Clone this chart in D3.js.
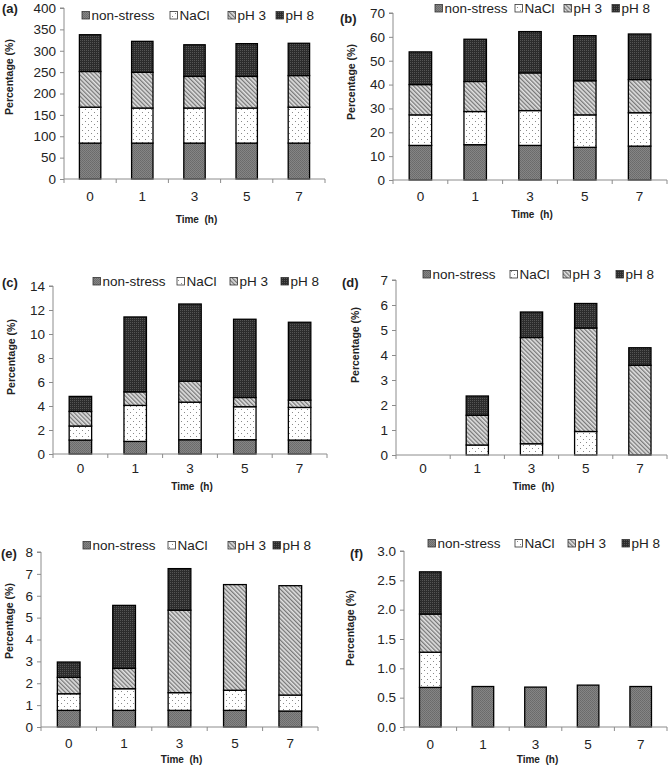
<!DOCTYPE html>
<html><head><meta charset="utf-8">
<script src="https://cdn.jsdelivr.net/npm/d3@7"></script>
<style>
html,body{margin:0;padding:0;background:#fff;}
svg{display:block;font-family:"Liberation Sans",Arial,sans-serif;}
</style></head>
<body>
<svg id="chart" width="669" height="767"></svg>
<script>
// ---------- data ----------
const times = ["0", "1", "3", "5", "7"];
const seriesNames = ["non-stress", "NaCl", "pH 3", "pH 8"];
const panelLabels = ["(a)", "(b)", "(c)", "(d)", "(e)", "(f)"];
const yMaxes = [400, 70, 14, 7, 8, 3.0];
const yTickSteps = [50, 10, 2, 1, 1, 0.5];
const yTickFormats = ["d", "d", "d", "d", "d", ".1f"];
const xTitle = "Time  (h)";
const yTitle = "Percentage (%)";

// panel (a)
const aNonStress = [84, 84, 84, 84, 84];
const aNaCl      = [84, 82, 82, 82, 84];
const aPH3       = [83.5, 83.5, 74, 74, 74];
const aPH8       = [86, 72.5, 74, 76.6, 75.5];
// panel (b)
const bNonStress = [14.5, 14.8, 14.5, 13.7, 14.2];
const bNaCl      = [12.8, 13.9, 14.6, 13.6, 14.0];
const bPH3       = [12.7, 12.6, 15.8, 14.3, 13.9];
const bPH8       = [13.7, 17.7, 17.3, 18.9, 19.1];
// panel (c)
const cNonStress = [1.16, 1.05, 1.19, 1.19, 1.16];
const cNaCl      = [1.17, 3.0, 3.13, 2.75, 2.72];
const cPH3       = [1.22, 1.13, 1.75, 0.77, 0.61];
const cPH8       = [1.25, 6.24, 6.43, 6.52, 6.49];
// panel (d)
const dNonStress = [0, 0, 0, 0, 0];
const dNaCl      = [0, 0.4, 0.45, 0.94, 0];
const dPH3       = [0, 1.19, 4.25, 4.14, 3.59];
const dPH8       = [0, 0.77, 1.02, 0.98, 0.7];
// panel (e)
const eNonStress = [0.76, 0.76, 0.76, 0.76, 0.73];
const eNaCl      = [0.76, 0.99, 0.81, 0.92, 0.73];
const ePH3       = [0.75, 0.93, 3.77, 4.83, 5.0];
const ePH8       = [0.7, 2.88, 1.9, 0, 0];
// panel (f)
const fNonStress = [0.675, 0.69, 0.68, 0.714, 0.69];
const fNaCl      = [0.6, 0, 0, 0, 0];
const fPH3       = [0.65, 0, 0, 0, 0];
const fPH8       = [0.72, 0, 0, 0, 0];

const panelSeries = [
  [aNonStress, aNaCl, aPH3, aPH8],
  [bNonStress, bNaCl, bPH3, bPH8],
  [cNonStress, cNaCl, cPH3, cPH8],
  [dNonStress, dNaCl, dPH3, dPH8],
  [eNonStress, eNaCl, ePH3, ePH8],
  [fNonStress, fNaCl, fPH3, fPH8]
];

// ---------- layout ----------
const layout = [
  {x0:64,  x1:325, yTop:8,   yBot:179, lab:[2,8],    leg:[[82,170,228,276],15],   yl:[9,77],    xl:196, tl:219},
  {x0:393, x1:667, yTop:13,  yBot:180, lab:[340,18], leg:[[435,515,564,612],8],   yl:[351,82],  xl:196, tl:214},
  {x0:53,  x1:327, yTop:286, yBot:454, lab:[2,282],  leg:[[93,177,230,281],281],  yl:[11,357],  xl:468, tl:486},
  {x0:396, x1:667, yTop:280, yBot:455, lab:[342,282],leg:[[423,510,563,616],274], yl:[355,345], xl:468, tl:486},
  {x0:41,  x1:318, yTop:552, yBot:727, lab:[1,553],  leg:[[83,168,228,273],545],  yl:[9,621],   xl:743, tl:759},
  {x0:404, x1:667, yTop:551, yBot:727, lab:[350,553],leg:[[428,515,568,622],543], yl:[350,628], xl:744, tl:759}
];

const svg = d3.select("#chart");
const defs = svg.append("defs");

// patterns
const pNs = defs.append("pattern").attr("id","pNs").attr("patternUnits","userSpaceOnUse").attr("width",2).attr("height",2);
pNs.append("rect").attr("width",2).attr("height",2).attr("fill","#858585");
pNs.append("rect").attr("width",1).attr("height",1).attr("fill","#6a6a6a");
pNs.append("rect").attr("x",1).attr("y",1).attr("width",1).attr("height",1).attr("fill","#6e6e6e");

const pNa = defs.append("pattern").attr("id","pNa").attr("patternUnits","userSpaceOnUse").attr("width",6).attr("height",6);
pNa.append("rect").attr("width",6).attr("height",6).attr("fill","#fff");
pNa.append("rect").attr("x",1).attr("y",1).attr("width",1).attr("height",1).attr("fill","#8a8a8a");
pNa.append("rect").attr("x",4).attr("y",4).attr("width",1).attr("height",1).attr("fill","#8a8a8a");

const pP3 = defs.append("pattern").attr("id","pP3").attr("patternUnits","userSpaceOnUse").attr("width",3).attr("height",3).attr("patternTransform","rotate(-45)");
pP3.append("rect").attr("width",3).attr("height",3).attr("fill","#e2e2e2");
pP3.append("rect").attr("width",1.3).attr("height",3).attr("fill","#777");

const pP8 = defs.append("pattern").attr("id","pP8").attr("patternUnits","userSpaceOnUse").attr("width",2).attr("height",2);
pP8.append("rect").attr("width",2).attr("height",2).attr("fill","#2c2c2c");
pP8.append("rect").attr("width",1).attr("height",1).attr("fill","#555");

const fills = ["url(#pNs)", "url(#pNa)", "url(#pP3)", "url(#pP8)"];
const axisColor = "#8c8c8c";

panelSeries.forEach((series, pi) => {
  const L = layout[pi];
  const g = svg.append("g");
  const x = d3.scaleBand().domain(times).range([L.x0, L.x1]).padding(0);
  const y = d3.scaleLinear().domain([0, yMaxes[pi]]).range([L.yBot, L.yTop]);
  const barW = x.bandwidth() * 0.41;

  // y axis
  const tickVals = d3.range(0, yMaxes[pi] + yTickSteps[pi] / 2, yTickSteps[pi]);
  const yAxis = d3.axisLeft(y).tickValues(tickVals).tickSize(4).tickPadding(4)
    .tickFormat(d3.format(yTickFormats[pi]));
  const ya = g.append("g").attr("transform", `translate(${L.x0},0)`).call(yAxis);
  ya.select(".domain").attr("stroke", axisColor).attr("d", `M-4,${L.yTop}H0V${L.yBot}`);
  ya.selectAll(".tick line").attr("stroke", axisColor);
  ya.selectAll("text").attr("font-size", 13.5).attr("fill", "#222")
    .attr("font-family", "Liberation Sans, Arial, sans-serif");

  // stacked bars
  const rows = times.map((t, i) => {
    const r = {t};
    seriesNames.forEach((s, k) => r[s] = series[k][i]);
    return r;
  });
  const stack = d3.stack().keys(seriesNames)(rows);
  stack.forEach((layer, k) => {
    g.append("g").selectAll("rect").data(layer.filter(d => d[1] - d[0] > 0)).join("rect")
      .attr("x", d => x(d.data.t) + x.bandwidth() / 2 - barW / 2)
      .attr("y", d => y(d[1]))
      .attr("width", barW)
      .attr("height", d => y(d[0]) - y(d[1]))
      .attr("fill", fills[k])
      .attr("stroke", "#000")
      .attr("stroke-width", 1.3);
  });

  // x axis
  g.append("line").attr("x1", L.x0).attr("x2", L.x1).attr("y1", L.yBot).attr("y2", L.yBot)
    .attr("stroke", axisColor).attr("stroke-width", 1);
  const bounds = times.map(t => x(t)).concat([x(times[times.length - 1]) + x.bandwidth()]);
  g.selectAll("line.xt").data(bounds).join("line").attr("class", "xt")
    .attr("x1", d => d).attr("x2", d => d).attr("y1", L.yBot).attr("y2", L.yBot + 4)
    .attr("stroke", axisColor);
  g.selectAll("text.xl").data(times).join("text").attr("class", "xl")
    .attr("x", d => x(d) + x.bandwidth() / 2).attr("y", L.xl)
    .attr("text-anchor", "middle").attr("dominant-baseline", "central")
    .attr("font-size", 13.5).attr("fill", "#222").text(d => d);

  // axis titles
  g.append("text").attr("x", (L.x0 + L.x1) / 2 + 2).attr("y", L.tl)
    .attr("text-anchor", "middle").attr("dominant-baseline", "central")
    .attr("font-size", 10).attr("font-weight", "bold").attr("fill", "#222")
    .style("white-space", "pre").text(xTitle);
  g.append("text").attr("transform", `translate(${L.yl[0]},${L.yl[1]}) rotate(-90)`)
    .attr("text-anchor", "middle").attr("dominant-baseline", "central")
    .attr("font-size", 10.5).attr("font-weight", "bold").attr("fill", "#222")
    .text(yTitle);

  // panel label
  g.append("text").attr("x", L.lab[0]).attr("y", L.lab[1])
    .attr("dominant-baseline", "central")
    .attr("font-size", 13).attr("font-weight", "bold").attr("fill", "#222")
    .text(panelLabels[pi]);

  // legend
  const lg = g.append("g");
  seriesNames.forEach((s, k) => {
    const lx = L.leg[0][k], ly = L.leg[1];
    lg.append("rect").attr("x", lx).attr("y", ly - 3.5).attr("width", 7.5).attr("height", 7.5)
      .attr("fill", fills[k]).attr("stroke", "#333").attr("stroke-width", 0.8);
    lg.append("text").attr("x", lx + 9.5).attr("y", ly + 0.5).attr("dominant-baseline", "central")
      .attr("font-size", 13.5).attr("fill", "#222").text(s);
  });
});
</script>
</body></html>
